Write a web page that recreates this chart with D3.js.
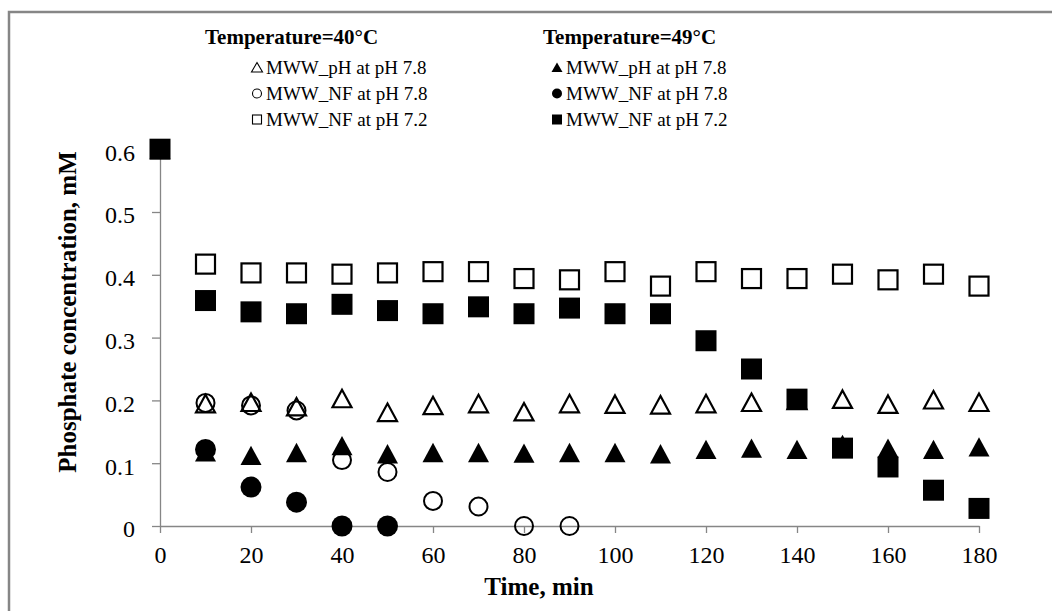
<!DOCTYPE html>
<html><head><meta charset="utf-8">
<script src="https://cdn.jsdelivr.net/npm/d3@7"></script>
<style>body{margin:0;background:#fff}svg{display:block}</style>
</head><body>
<svg id="c" width="1052" height="611"></svg>
<script>
const times = [0,10,20,30,40,50,60,70,80,90,100,110,120,130,140,150,160,170,180];
const xTicks = [0,20,40,60,80,100,120,140,160,180];
const yTicks = [0,0.1,0.2,0.3,0.4,0.5,0.6];
const yTickLabels = ["0","0.1","0.2","0.3","0.4","0.5","0.6"];

// 40°C series
const pH78_40 = [null,0.195,0.197,0.190,0.203,0.181,0.192,0.195,0.182,0.195,0.194,0.193,0.195,0.197,0.200,0.202,0.194,0.201,0.197];
const nf78_40 = [null,0.196,0.192,0.184,0.105,0.086,0.040,0.031,0,0];
const nf72_40 = [null,0.417,0.403,0.403,0.401,0.403,0.405,0.405,0.394,0.392,0.405,0.382,0.405,0.394,0.394,0.401,0.392,0.401,0.382];
// 49°C series
const pH78_49 = [0.6,0.118,0.1125,0.117,0.128,0.115,0.117,0.117,0.116,0.117,0.117,0.115,0.122,0.124,0.122,0.130,0.124,0.122,0.126];
const nf78_49 = [null,0.122,0.062,0.038,0,0];
const nf72_49 = [0.6,0.359,0.341,0.338,0.353,0.343,0.338,0.349,0.338,0.347,0.338,0.338,0.295,0.250,0.202,0.124,0.094,0.057,0.028];

const legendHeaders = ["Temperature=40\u00B0C","Temperature=49\u00B0C"];
const legendLabels = ["MWW_pH at pH 7.8","MWW_NF at pH 7.8","MWW_NF at pH 7.2"];

const svg = d3.select("#c");
const grey = "#868686";
const serif = "'Liberation Serif','Times New Roman',serif";

// outer frame (only top/left visible)
svg.append("rect").attr("x",9).attr("y",12).attr("width",1200).attr("height",800)
  .attr("fill","none").attr("stroke",grey).attr("stroke-width",2.5);

const x = d3.scaleLinear().domain([0,180]).range([160,979]);
const y = d3.scaleLinear().domain([0,0.6]).range([526,149.2]);

// axes
const xAxis = d3.axisBottom(x).tickValues(xTicks).tickSize(7).tickSizeOuter(0).tickFormat(d3.format("d"));
const gx = svg.append("g").attr("transform",`translate(0,${y(0)})`).call(xAxis);
gx.select(".domain").attr("stroke",grey).attr("stroke-width",1.3);
gx.selectAll(".tick line").attr("stroke",grey).attr("stroke-width",1.3);
gx.selectAll(".tick text").attr("font-family",serif).attr("font-size",24).attr("fill","#000").attr("y",20).attr("dy","0.71em");

const yAxis = d3.axisLeft(y).tickValues(yTicks).tickSize(8).tickSizeOuter(0).tickFormat((d,i)=>yTickLabels[i]);
const gy = svg.append("g").attr("transform",`translate(${x(0)},0)`).call(yAxis);
gy.select(".domain").attr("stroke",grey).attr("stroke-width",1.3);
gy.selectAll(".tick line").attr("stroke",grey).attr("stroke-width",1.3);
gy.selectAll(".tick text").attr("font-family",serif).attr("font-size",24).attr("fill","#000").attr("x",-25).attr("dy","0.45em");

// axis titles
svg.append("text").attr("x",539).attr("y",595).attr("text-anchor","middle")
  .attr("font-family",serif).attr("font-weight","bold").attr("font-size",25).text("Time, min");
svg.append("text").attr("transform","translate(76,312) rotate(-90)").attr("text-anchor","middle")
  .attr("font-family",serif).attr("font-weight","bold").attr("font-size",25).text("Phosphate concentration, mM");

// markers
function drawSeries(vals, type, filled, size){
  const pts = times.map((t,i)=>({t, v: vals[i]})).filter(d=>d.v!==null && d.v!==undefined);
  const g = svg.append("g");
  if(type==="circle"){
    g.selectAll("circle").data(pts).join("circle")
      .attr("cx",d=>x(d.t)).attr("cy",d=>y(d.v)).attr("r",filled? size/2 : size/2-1)
      .attr("fill",filled?"#000":"none").attr("stroke","#000").attr("stroke-width",filled?0:2);
  } else if(type==="square"){
    const s = filled? size : size-2;
    g.selectAll("rect").data(pts).join("rect")
      .attr("x",d=>x(d.t)-s/2).attr("y",d=>y(d.v)-s/2).attr("width",s).attr("height",s)
      .attr("fill",filled?"#000":"none").attr("stroke","#000").attr("stroke-width",filled?0:2.2);
  } else {
    const w = filled? size : size-2, h = w*0.92;
    g.selectAll("path").data(pts).join("path")
      .attr("d",d=>{const cx=x(d.t), cy=y(d.v);
        return `M${cx},${cy-h/2}L${cx+w/2},${cy+h/2}L${cx-w/2},${cy+h/2}Z`;})
      .attr("fill",filled?"#000":"none").attr("stroke","#000").attr("stroke-width",filled?0:2.2)
      .attr("stroke-linejoin","miter");
  }
}
drawSeries(pH78_40,"triangle",false,21);
drawSeries(nf78_40,"circle",false,20);
drawSeries(pH78_49,"triangle",true,21);
drawSeries(nf78_49,"circle",true,21);
drawSeries(nf72_40,"square",false,21);
drawSeries(nf72_49,"square",true,21);

// legend
const cols = [{hx:205, sx:257, tx:266, filled:false},{hx:543, sx:557, tx:566, filled:true}];
const rowY = [74,100,126];
const types = ["triangle","circle","square"];
cols.forEach((c,ci)=>{
  svg.append("text").attr("x",c.hx).attr("y",44).attr("font-family",serif).attr("font-weight","bold")
    .attr("font-size",21).text(legendHeaders[ci]);
  legendLabels.forEach((lab,ri)=>{
    const cy = rowY[ri]-6.5;
    const f = c.filled? "#000":"none";
    if(types[ri]==="triangle"){
      svg.append("path").attr("d",`M${c.sx},${cy-5}L${c.sx+5.5},${cy+4.5}L${c.sx-5.5},${cy+4.5}Z`)
        .attr("fill",f).attr("stroke","#000").attr("stroke-width",c.filled?0:1.1);
    } else if(types[ri]==="circle"){
      svg.append("circle").attr("cx",c.sx).attr("cy",cy).attr("r",c.filled?5:4.5)
        .attr("fill",f).attr("stroke","#000").attr("stroke-width",c.filled?0:1.1);
    } else {
      const s = c.filled?10:9;
      svg.append("rect").attr("x",c.sx-s/2).attr("y",cy-s/2).attr("width",s).attr("height",s)
        .attr("fill",f).attr("stroke","#000").attr("stroke-width",c.filled?0:1.1);
    }
    svg.append("text").attr("x",c.tx).attr("y",rowY[ri]).attr("font-family",serif)
      .attr("font-size",19).text(lab);
  });
});
</script>
</body></html>
